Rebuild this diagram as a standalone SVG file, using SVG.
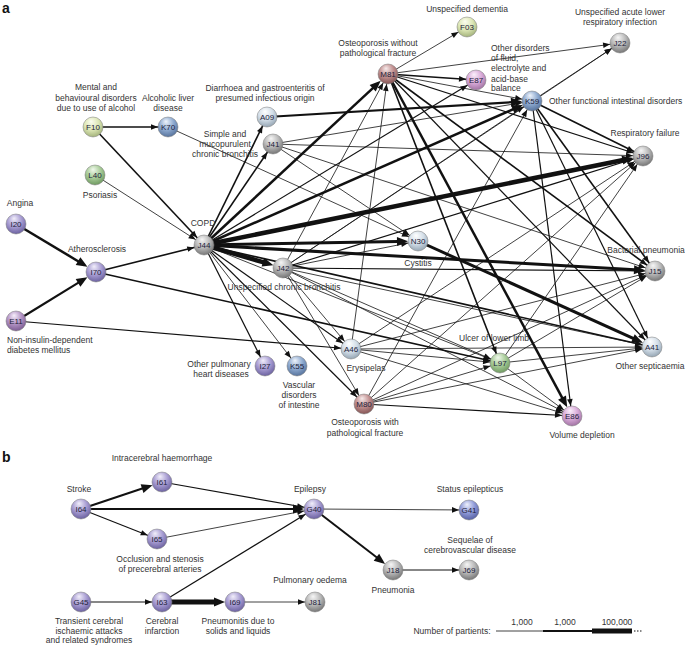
<svg xmlns="http://www.w3.org/2000/svg" width="685" height="645" viewBox="0 0 685 645">
<style>
.e{stroke:#111;fill:none;marker-end:url(#ah)}
.k{stroke:#111;fill:none;marker-end:url(#ahL)}
.w1{stroke-width:0.8}.w2{stroke-width:1.2}.w3{stroke-width:1.6}
.lb{font-family:"Liberation Sans",Arial,sans-serif;font-size:8.5px;fill:#333}
.c{text-anchor:middle}
.nl{font-family:"Liberation Sans",Arial,sans-serif;font-size:8px;fill:#22223a;text-anchor:middle}
.pl{font-family:"Liberation Sans",Arial,sans-serif;font-size:14px;font-weight:bold;fill:#111}
circle{stroke:#777;stroke-width:0.5}
</style>
<defs>
<marker id="ah" viewBox="-10 -5 12 10" refX="10" refY="0" markerWidth="12" markerHeight="10" markerUnits="userSpaceOnUse" orient="auto" overflow="visible"><path d="M0,0 L-7,-2.8 L-7,2.8 z" fill="#111"/></marker>
<marker id="ahL" viewBox="-14 -6 16 12" refX="-10" refY="0" markerWidth="16" markerHeight="12" markerUnits="userSpaceOnUse" orient="auto" overflow="visible"><path d="M0,0 L-11,-4.5 L-11,4.5 z" fill="#111"/></marker>
<radialGradient id="gGrey" cx="0.45" cy="0.35" r="0.65" fx="0.4" fy="0.22"><stop offset="0" stop-color="#f6f6f6"/><stop offset="0.55" stop-color="#b9b9b9"/><stop offset="1" stop-color="#777"/></radialGradient>
<radialGradient id="gLb" cx="0.45" cy="0.35" r="0.65" fx="0.4" fy="0.22"><stop offset="0" stop-color="#ffffff"/><stop offset="0.55" stop-color="#d3dee8"/><stop offset="1" stop-color="#96a6b4"/></radialGradient>
<radialGradient id="gBlue" cx="0.45" cy="0.35" r="0.65" fx="0.4" fy="0.22"><stop offset="0" stop-color="#eef3fa"/><stop offset="0.55" stop-color="#8eaad0"/><stop offset="1" stop-color="#57739c"/></radialGradient>
<radialGradient id="gPur" cx="0.45" cy="0.35" r="0.65" fx="0.4" fy="0.22"><stop offset="0" stop-color="#f1eefa"/><stop offset="0.55" stop-color="#a79cd2"/><stop offset="1" stop-color="#6c62a0"/></radialGradient>
<radialGradient id="gE11" cx="0.45" cy="0.35" r="0.65" fx="0.4" fy="0.22"><stop offset="0" stop-color="#f6eefa"/><stop offset="0.55" stop-color="#b293c4"/><stop offset="1" stop-color="#7c5c92"/></radialGradient>
<radialGradient id="gPink" cx="0.45" cy="0.35" r="0.65" fx="0.4" fy="0.22"><stop offset="0" stop-color="#fbf0fb"/><stop offset="0.55" stop-color="#d8aad8"/><stop offset="1" stop-color="#a274a4"/></radialGradient>
<radialGradient id="gRed" cx="0.45" cy="0.35" r="0.65" fx="0.4" fy="0.22"><stop offset="0" stop-color="#f6eaea"/><stop offset="0.55" stop-color="#c08e8e"/><stop offset="1" stop-color="#855656"/></radialGradient>
<radialGradient id="gYg" cx="0.45" cy="0.35" r="0.65" fx="0.4" fy="0.22"><stop offset="0" stop-color="#fbfdf0"/><stop offset="0.55" stop-color="#dde7b6"/><stop offset="1" stop-color="#a4b37c"/></radialGradient>
<radialGradient id="gGreen" cx="0.45" cy="0.35" r="0.65" fx="0.4" fy="0.22"><stop offset="0" stop-color="#f0f8ec"/><stop offset="0.55" stop-color="#a8cc98"/><stop offset="1" stop-color="#709a62"/></radialGradient>
<radialGradient id="gG41" cx="0.45" cy="0.35" r="0.65" fx="0.4" fy="0.22"><stop offset="0" stop-color="#eef0fb"/><stop offset="0.55" stop-color="#8f9ad8"/><stop offset="1" stop-color="#5862a4"/></radialGradient>
</defs>
<rect width="685" height="645" fill="#fff"/>

<g id="connectors">
<line class="e w3" x1="93" y1="127" x2="168" y2="127"/>
<line class="e w3" x1="93" y1="127" x2="204" y2="245"/>
<line class="e w1" x1="95" y1="175" x2="204" y2="245"/>
<line class="e w1" x1="168" y1="127" x2="418" y2="241"/>
<line class="e w3" x1="96" y1="272" x2="204" y2="245"/>
<line class="e w3" x1="96" y1="272" x2="500" y2="363"/>
<line class="e w2" x1="16" y1="321" x2="351" y2="349"/>
<line class="e w3" x1="204" y1="245" x2="267" y2="117"/>
<line class="e w3" x1="204" y1="245" x2="273" y2="144"/>
<line class="e w2" x1="204" y1="245" x2="476" y2="80"/>
<line class="e w2" x1="204" y1="245" x2="351" y2="349"/>
<line class="e w2" x1="204" y1="245" x2="265" y2="366"/>
<line class="e w1" x1="204" y1="245" x2="297" y2="366"/>
<line class="e w2" x1="204" y1="245" x2="364" y2="404"/>
<line class="e w3" x1="204" y1="245" x2="652" y2="347"/>
<line class="e w1" x1="204" y1="245" x2="500" y2="363"/>
<line class="e w1" x1="273" y1="144" x2="532" y2="101"/>
<line class="e w1" x1="273" y1="144" x2="643" y2="156"/>
<line class="e w1" x1="273" y1="144" x2="655" y2="271"/>
<line class="e w1" x1="273" y1="144" x2="418" y2="241"/>
<line class="e w1" x1="388" y1="74" x2="467" y2="27"/>
<line class="e w1" x1="388" y1="74" x2="620" y2="43"/>
<line class="e w3" x1="388" y1="74" x2="476" y2="80"/>
<line class="e w1" x1="388" y1="74" x2="532" y2="101"/>
<line class="e w2" x1="388" y1="74" x2="643" y2="156"/>
<line class="e w3" x1="388" y1="74" x2="655" y2="271"/>
<line class="e w2" x1="388" y1="74" x2="652" y2="347"/>
<line class="e w3" x1="388" y1="74" x2="500" y2="363"/>
<line class="e w1" x1="532" y1="101" x2="620" y2="43"/>
<line class="e w3" x1="532" y1="101" x2="643" y2="156"/>
<line class="e w3" x1="532" y1="101" x2="655" y2="271"/>
<line class="e w2" x1="532" y1="101" x2="652" y2="347"/>
<line class="e w2" x1="532" y1="101" x2="572" y2="416"/>
<line class="e w1" x1="283" y1="268" x2="388" y2="74"/>
<line class="e w1" x1="283" y1="268" x2="418" y2="241"/>
<line class="e w1" x1="283" y1="268" x2="532" y2="101"/>
<line class="e w1" x1="283" y1="268" x2="620" y2="43"/>
<line class="e w2" x1="283" y1="268" x2="643" y2="156"/>
<line class="e w2" x1="283" y1="268" x2="655" y2="271"/>
<line class="e w1" x1="283" y1="268" x2="652" y2="347"/>
<line class="e w1" x1="283" y1="268" x2="500" y2="363"/>
<line class="e w1" x1="283" y1="268" x2="572" y2="416"/>
<line class="e w1" x1="283" y1="268" x2="351" y2="349"/>
<line class="e w1" x1="283" y1="268" x2="364" y2="404"/>
<line class="e w1" x1="351" y1="349" x2="388" y2="74"/>
<line class="e w1" x1="351" y1="349" x2="643" y2="156"/>
<line class="e w1" x1="351" y1="349" x2="655" y2="271"/>
<line class="e w1" x1="351" y1="349" x2="652" y2="347"/>
<line class="e w1" x1="351" y1="349" x2="500" y2="363"/>
<line class="e w1" x1="351" y1="349" x2="572" y2="416"/>
<line class="e w1" x1="364" y1="404" x2="532" y2="101"/>
<line class="e w1" x1="364" y1="404" x2="643" y2="156"/>
<line class="e w1" x1="364" y1="404" x2="655" y2="271"/>
<line class="e w1" x1="364" y1="404" x2="652" y2="347"/>
<line class="e w1" x1="364" y1="404" x2="500" y2="363"/>
<line class="e w2" x1="364" y1="404" x2="572" y2="416"/>
<line class="e w1" x1="500" y1="363" x2="655" y2="271"/>
<line class="e w1" x1="500" y1="363" x2="652" y2="347"/>
<line class="e w1" x1="500" y1="363" x2="572" y2="416"/>
<line class="e w1" x1="500" y1="363" x2="643" y2="156"/>
<line class="k" stroke-width="4.5" x1="204" y1="245" x2="623.4" y2="160"/>
<line class="k" stroke-width="4.5" x1="204" y1="245" x2="263.8" y2="262.4"/>
<line class="k" stroke-width="3" x1="204" y1="245" x2="398" y2="241.4"/>
<line class="k" stroke-width="3" x1="204" y1="245" x2="635" y2="269.8"/>
<line class="k" stroke-width="2.5" x1="204" y1="245" x2="373.4" y2="87.6"/>
<line class="k" stroke-width="2.5" x1="204" y1="245" x2="513.7" y2="109"/>
<line class="k" stroke-width="3" x1="418" y1="241" x2="633.8" y2="338.7"/>
<line class="k" stroke-width="2.5" x1="388" y1="74" x2="562.5" y2="398.4"/>
<line class="k" stroke-width="2.5" x1="16" y1="224" x2="78.9" y2="261.7"/>
<line class="k" stroke-width="2.2" x1="16" y1="321" x2="78.9" y2="282.4"/>
<line class="k" stroke-width="2.2" x1="267" y1="117" x2="512" y2="102.2"/>
<!-- panel b -->
<line class="k" stroke-width="2" x1="81" y1="509" x2="143" y2="488.3"/>
<line class="k" stroke-width="2" x1="81" y1="509" x2="294" y2="509"/>
<line class="e w2" x1="81" y1="509" x2="157" y2="539"/>
<line class="e w2" x1="162" y1="482" x2="314" y2="509"/>
<line class="e w1" x1="157" y1="539" x2="314" y2="509"/>
<line class="e w2" x1="162" y1="602" x2="314" y2="509"/>
<line class="e w1" x1="314" y1="509" x2="469" y2="510"/>
<line class="k" stroke-width="2" x1="314" y1="509" x2="377.2" y2="557.8"/>
<line class="e w2" x1="393" y1="570" x2="469" y2="570"/>
<line class="e w2" x1="81" y1="602" x2="162" y2="602"/>
<line class="k" stroke-width="5" x1="162" y1="602" x2="215" y2="602"/>
<line class="e w1" x1="235" y1="602" x2="315" y2="602"/>
</g>

<g id="F10"><circle cx="93" cy="127" r="10" fill="url(#gYg)"/><text class="nl" x="93" y="130">F10</text></g>
<g id="K70"><circle cx="168" cy="127" r="10" fill="url(#gBlue)"/><text class="nl" x="168" y="130">K70</text></g>
<g id="L40"><circle cx="95" cy="175" r="10" fill="url(#gGreen)"/><text class="nl" x="95" y="178">L40</text></g>
<g id="I20"><circle cx="16" cy="224" r="10" fill="url(#gPur)"/><text class="nl" x="16" y="227">I20</text></g>
<g id="I70"><circle cx="96" cy="272" r="10" fill="url(#gPur)"/><text class="nl" x="96" y="275">I70</text></g>
<g id="E11"><circle cx="16" cy="321" r="10" fill="url(#gE11)"/><text class="nl" x="16" y="324">E11</text></g>
<g id="J44"><circle cx="204" cy="245" r="10" fill="url(#gGrey)"/><text class="nl" x="204" y="248">J44</text></g>
<g id="J42"><circle cx="283" cy="268" r="10" fill="url(#gGrey)"/><text class="nl" x="283" y="271">J42</text></g>
<g id="A09"><circle cx="267" cy="117" r="10" fill="url(#gLb)"/><text class="nl" x="267" y="120">A09</text></g>
<g id="J41"><circle cx="273" cy="144" r="10" fill="url(#gGrey)"/><text class="nl" x="273" y="147">J41</text></g>
<g id="M81"><circle cx="388" cy="74" r="10" fill="url(#gRed)"/><text class="nl" x="388" y="77">M81</text></g>
<g id="F03"><circle cx="467" cy="27" r="10" fill="url(#gYg)"/><text class="nl" x="467" y="30">F03</text></g>
<g id="J22"><circle cx="620" cy="43" r="10" fill="url(#gGrey)"/><text class="nl" x="620" y="46">J22</text></g>
<g id="E87"><circle cx="476" cy="80" r="10" fill="url(#gPink)"/><text class="nl" x="476" y="83">E87</text></g>
<g id="K59"><circle cx="532" cy="101" r="10" fill="url(#gBlue)"/><text class="nl" x="532" y="104">K59</text></g>
<g id="J96"><circle cx="643" cy="156" r="10" fill="url(#gGrey)"/><text class="nl" x="643" y="159">J96</text></g>
<g id="N30"><circle cx="418" cy="241" r="10" fill="url(#gLb)"/><text class="nl" x="418" y="244">N30</text></g>
<g id="J15"><circle cx="655" cy="271" r="10" fill="url(#gGrey)"/><text class="nl" x="655" y="274">J15</text></g>
<g id="A41"><circle cx="652" cy="347" r="10" fill="url(#gLb)"/><text class="nl" x="652" y="350">A41</text></g>
<g id="L97"><circle cx="500" cy="363" r="10" fill="url(#gGreen)"/><text class="nl" x="500" y="366">L97</text></g>
<g id="E86"><circle cx="572" cy="416" r="10" fill="url(#gPink)"/><text class="nl" x="572" y="419">E86</text></g>
<g id="A46"><circle cx="351" cy="349" r="10" fill="url(#gLb)"/><text class="nl" x="351" y="352">A46</text></g>
<g id="M80"><circle cx="364" cy="404" r="10" fill="url(#gRed)"/><text class="nl" x="364" y="407">M80</text></g>
<g id="I27"><circle cx="265" cy="366" r="10" fill="url(#gPur)"/><text class="nl" x="265" y="369">I27</text></g>
<g id="K55"><circle cx="297" cy="366" r="10" fill="url(#gBlue)"/><text class="nl" x="297" y="369">K55</text></g>

<g id="I64"><circle cx="81" cy="509" r="10" fill="url(#gPur)"/><text class="nl" x="81" y="512">I64</text></g>
<g id="I61"><circle cx="162" cy="482" r="10" fill="url(#gPur)"/><text class="nl" x="162" y="485">I61</text></g>
<g id="I65"><circle cx="157" cy="539" r="10" fill="url(#gPur)"/><text class="nl" x="157" y="542">I65</text></g>
<g id="G40"><circle cx="314" cy="509" r="10" fill="url(#gPur)"/><text class="nl" x="314" y="512">G40</text></g>
<g id="G41"><circle cx="469" cy="510" r="10" fill="url(#gG41)"/><text class="nl" x="469" y="513">G41</text></g>
<g id="J18"><circle cx="393" cy="570" r="10" fill="url(#gGrey)"/><text class="nl" x="393" y="573">J18</text></g>
<g id="J69"><circle cx="469" cy="570" r="10" fill="url(#gGrey)"/><text class="nl" x="469" y="573">J69</text></g>
<g id="G45"><circle cx="81" cy="602" r="10" fill="url(#gPur)"/><text class="nl" x="81" y="605">G45</text></g>
<g id="I63"><circle cx="162" cy="602" r="10" fill="url(#gPur)"/><text class="nl" x="162" y="605">I63</text></g>
<g id="I69"><circle cx="235" cy="602" r="10" fill="url(#gPur)"/><text class="nl" x="235" y="605">I69</text></g>
<g id="J81"><circle cx="315" cy="602" r="10" fill="url(#gGrey)"/><text class="nl" x="315" y="605">J81</text></g>

<g id="labels">
<text class="pl" x="2" y="13">a</text>
<text class="pl" x="2" y="462">b</text>
<text class="lb c" x="96" y="90">Mental and</text>
<text class="lb c" x="96" y="101">behavioural disorders</text>
<text class="lb c" x="96" y="111">due to use of alcohol</text>
<text class="lb c" x="168" y="101">Alcoholic liver</text>
<text class="lb c" x="168" y="111">disease</text>
<text class="lb c" x="265" y="91">Diarrhoea and gastroenteritis of</text>
<text class="lb c" x="265" y="101">presumed infectious origin</text>
<text class="lb c" x="225" y="137">Simple and</text>
<text class="lb c" x="225" y="147">mucopurulent</text>
<text class="lb c" x="225" y="157">chronic bronchitis</text>
<text class="lb c" x="100" y="198">Psoriasis</text>
<text class="lb c" x="20" y="206">Angina</text>
<text class="lb c" x="97" y="252">Atherosclerosis</text>
<text class="lb c" x="203" y="226">COPD</text>
<text class="lb" x="7" y="343">Non-insulin-dependent</text>
<text class="lb" x="7" y="353">diabetes mellitus</text>
<text class="lb c" x="378" y="46">Osteoporosis without</text>
<text class="lb c" x="378" y="56">pathological fracture</text>
<text class="lb c" x="467" y="12">Unspecified dementia</text>
<text class="lb c" x="620" y="15">Unspecified acute lower</text>
<text class="lb c" x="620" y="25">respiratory infection</text>
<text class="lb" x="491" y="51">Other disorders</text>
<text class="lb" x="491" y="61">of fluid,</text>
<text class="lb" x="491" y="71">electrolyte and</text>
<text class="lb" x="491" y="82">acid-base</text>
<text class="lb" x="491" y="91">balance</text>
<text class="lb" x="549" y="104">Other functional intestinal disorders</text>
<text class="lb c" x="645" y="136">Respiratory failure</text>
<text class="lb c" x="418" y="266">Cystitis</text>
<text class="lb c" x="284" y="290">Unspecified chronic bronchitis</text>
<text class="lb c" x="646" y="253">Bacterial pneumonia</text>
<text class="lb c" x="650" y="369">Other septicaemia</text>
<text class="lb c" x="494" y="341">Ulcer of lower limb</text>
<text class="lb c" x="582" y="438">Volume depletion</text>
<text class="lb c" x="366" y="371">Erysipelas</text>
<text class="lb c" x="219" y="367">Other pulmonary</text>
<text class="lb c" x="221" y="377">heart diseases</text>
<text class="lb c" x="299" y="388">Vascular</text>
<text class="lb c" x="299" y="398">disorders</text>
<text class="lb c" x="299" y="408">of intestine</text>
<text class="lb c" x="365" y="425">Osteoporosis with</text>
<text class="lb c" x="365" y="436">pathological fracture</text>

<text class="lb c" x="79" y="492">Stroke</text>
<text class="lb c" x="162" y="461">Intracerebral haemorrhage</text>
<text class="lb c" x="310" y="492">Epilepsy</text>
<text class="lb c" x="160" y="562">Occlusion and stenosis</text>
<text class="lb c" x="160" y="572">of precerebral arteries</text>
<text class="lb c" x="310" y="583">Pulmonary oedema</text>
<text class="lb c" x="89" y="624">Transient cerebral</text>
<text class="lb c" x="89" y="634">ischaemic attacks</text>
<text class="lb c" x="89" y="643">and related syndromes</text>
<text class="lb c" x="162" y="624">Cerebral</text>
<text class="lb c" x="162" y="634">infarction</text>
<text class="lb c" x="238" y="624">Pneumonitis due to</text>
<text class="lb c" x="238" y="634">solids and liquids</text>
<text class="lb c" x="470" y="492">Status epilepticus</text>
<text class="lb c" x="470" y="543">Sequelae of</text>
<text class="lb c" x="470" y="553">cerebrovascular disease</text>
<text class="lb c" x="393" y="593">Pneumonia</text>
</g>

<g id="legend">
<text class="lb c" x="452" y="634">Number of partients:</text>
<text class="lb c" x="522" y="625">1,000</text>
<text class="lb c" x="565" y="625">1,000</text>
<text class="lb c" x="617" y="625">100,000</text>
<line x1="496" y1="631" x2="543" y2="631" stroke="#111" stroke-width="0.8"/>
<line x1="543" y1="631" x2="592" y2="631" stroke="#111" stroke-width="1.8"/>
<line x1="592" y1="631" x2="632" y2="631" stroke="#111" stroke-width="5"/>
<line x1="634" y1="631" x2="643" y2="631" stroke="#111" stroke-width="1" stroke-dasharray="1.5,1.5"/>
</g>
</svg>
